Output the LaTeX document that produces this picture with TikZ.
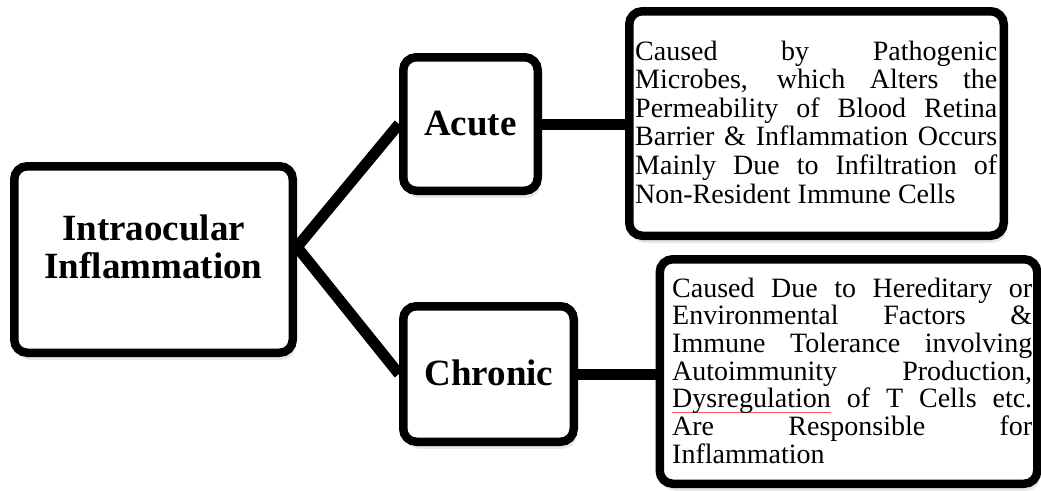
\documentclass[tikz,border=0pt]{standalone}
\usepackage{fontspec}
\setmainfont{Liberation Serif}
\usetikzlibrary{shadows}
\newcommand{\jl}[2]{\makebox[#1][s]{#2}}
\newcommand{\blockc}[2]{\vtop{\hsize=#1\parindent=0pt\centering #2\par}}
\newcommand{\blockl}[2]{\vtop{\hsize=#1\parindent=0pt\raggedright #2\par}}
\newsavebox\smbox
\newcommand{\spellmark}[1]{\sbox\smbox{#1}\rlap{\textcolor{red!65}{\rule[-4.7pt]{\wd\smbox}{0.8pt}}}\usebox\smbox}
\begin{document}
\begin{tikzpicture}[x=1pt,y=-1pt,
  box/.style={draw=black, line width=8.5pt, rounded corners=13pt, fill=white,
    drop shadow={shadow xshift=2.5pt, shadow yshift=-7pt, opacity=0.18}},
  conn/.style={draw=black, line width=11pt, line join=miter},
  head/.style={font=\fontsize{37}{37.5}\selectfont\bfseries, inner sep=0pt},
  body/.style={font=\fontsize{28}{28.6}\selectfont, inner sep=0pt},
  bodyb/.style={font=\fontsize{28}{27.7}\selectfont, inner sep=0pt}]
\useasboundingbox (0,0) rectangle (1041,490);
% boxes
\node[box, minimum width=278.5pt, minimum height=186.5pt] (main) at (153.5,259.5) {};
\node[box, minimum width=134.5pt, minimum height=133.5pt] (acute) at (470.5,124) {};
\node[box, minimum width=170.5pt, minimum height=135.5pt] (chronic) at (488.5,374) {};
\node[box, minimum width=374.5pt, minimum height=224.5pt] (topbox) at (816.5,123.5) {};
\node[box, minimum width=377.5pt, minimum height=224.5pt] (botbox) at (848.5,371.5) {};
% connectors
\coordinate (j) at (297,247);
\draw[conn] (acute.west) -- (j) -- (chronic.west);
\draw[conn] (acute.east) -- (acute.east -| topbox.west);
\draw[conn] (chronic.east) -- (chronic.east -| botbox.west);
% texts
\node[head, anchor=base] (maintext) at (153.5,240.7) {\blockc{260pt}{Intraocular\\Inflammation}};
\node[head, anchor=base] (acutetext) at (470.5,135) {Acute};
\node[head, anchor=base] (chronictext) at (489,385) {Chronic};
\node[body, anchor=base west] (toptext) at (635,60) {\blockl{362pt}{%
\jl{362pt}{Caused by Pathogenic}\\
\jl{362pt}{Microbes, which Alters the}\\
\jl{362pt}{Permeability of Blood Retina}\\
\jl{362pt}{Barrier \& Inflammation Occurs}\\
\jl{362pt}{Mainly Due to Infiltration of}\\
Non-Resident Immune Cells}};
\node[bodyb, anchor=base west] (bottext) at (672,297) {\blockl{360pt}{%
\jl{360pt}{Caused Due to Hereditary or}\\
\jl{360pt}{Environmental Factors \&}\\
\jl{360pt}{Immune Tolerance involving}\\
\jl{360pt}{Autoimmunity Production,}\\
\jl{360pt}{\spellmark{Dysregulation} of T Cells etc.}\\
\jl{360pt}{Are Responsible for}\\
Inflammation}};
\end{tikzpicture}
\end{document}
